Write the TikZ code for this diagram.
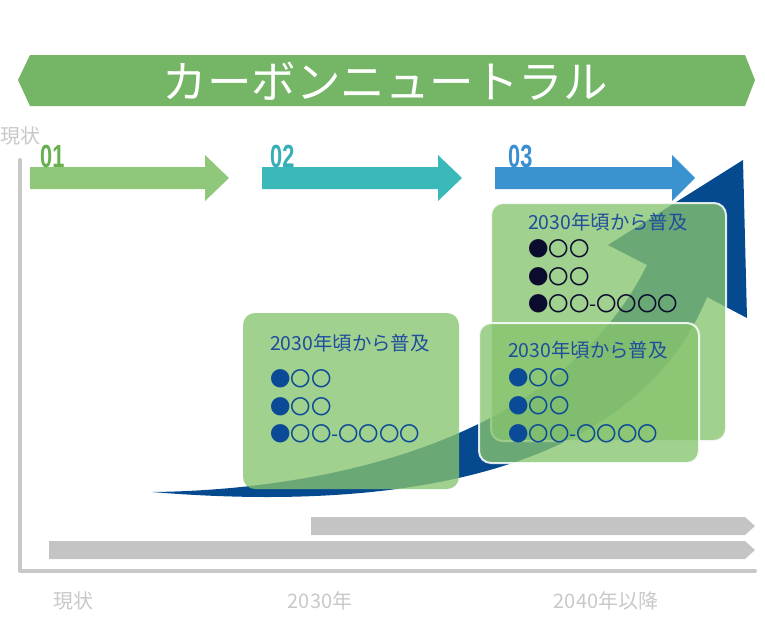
\documentclass[tikz,border=0pt]{standalone}
\usepackage{fontspec}
\setmainfont{Noto Sans CJK JP}
\newfontfamily\numfont{Liberation Sans}
\definecolor{bannerg}{HTML}{74B566}
\definecolor{arrowA}{HTML}{8FC87A}
\definecolor{numA}{HTML}{68B04F}
\definecolor{arrowB}{HTML}{3AB8BA}
\definecolor{numB}{HTML}{35AEB8}
\definecolor{arrowC}{HTML}{3A93D0}
\definecolor{numC}{HTML}{3A8FD0}
\definecolor{curveblue}{HTML}{05498F}
\definecolor{boxfill}{HTML}{87C46E}
\definecolor{txtblue}{HTML}{1E4E9C}
\definecolor{bulblue}{HTML}{0A4A96}
\definecolor{bulblack}{HTML}{0B0B2E}
\definecolor{axisgray}{HTML}{C8C8C8}
\definecolor{bargray}{HTML}{C4C4C4}
\tikzset{
  axisline/.style={draw=axisgray, line width=4pt, line cap=round, line join=round},
  graybar/.style={fill=bargray},
  numlabel/.style={anchor=base west, inner sep=0pt, font=\numfont\bfseries\fontsize{32}{32}\selectfont},
  infobox/.style={rectangle, rounded corners=12pt, anchor=north west, inner sep=0pt,
     fill=boxfill, fill opacity=0.78, draw=white, draw opacity=0.85, line width=2pt},
  boxtitle/.style={anchor=base west, inner sep=0pt, text=txtblue, font=\fontsize{19.4}{19.4}\selectfont},
  bulletline/.style={anchor=base west, inner sep=0pt, font=\fontsize{20.4}{20.4}\selectfont},
  axislabel/.style={anchor=base, inner sep=0pt, text=axisgray, font=\fontsize{20}{20}\selectfont}
}
\begin{document}
\begin{tikzpicture}[x=1pt,y=-1pt]
\useasboundingbox (0,0) rectangle (765,638);
% banner
\fill[bannerg] (18,80) -- (30,55) -- (745,55) -- (755,80) -- (745,106) -- (30,106) -- cycle;
\node[text=white, inner sep=0pt, font=\fontsize{44.5}{44.5}\selectfont] (title) at (385,81) {カーボンニュートラル};
% axes
\coordinate (axtop) at (20,160);
\coordinate (axorigin) at (20,571);
\coordinate (axright) at (755,571);
\draw[axisline] (axtop) -- (axorigin) -- (axright);
\node[axislabel] (lbltop) at (20,143) {現状};
\node[axislabel] (lblnow) at (73,608) {現状};
\node[axislabel] (lbl2030) at (320,608) {2030年};
\node[axislabel] (lbl2040) at (606,608) {2040年以降};
% gray bars
\fill[graybar] (311,517) -- (745,517) -- (755,526) -- (745,535) -- (311,535) -- cycle;
\fill[graybar] (49,541) -- (745,541) -- (755,550) -- (745,559) -- (49,559) -- cycle;
% phase arrows
\fill[arrowA] (30,167) -- (205,167) -- (205,155) -- (229,178) -- (205,201) -- (205,189) -- (30,189) -- cycle;
\fill[arrowB] (262,167) -- (438,167) -- (438,155) -- (462,178) -- (438,201) -- (438,189) -- (262,189) -- cycle;
\fill[arrowC] (495,167) -- (672,167) -- (672,155) -- (695,178) -- (672,201) -- (672,189) -- (495,189) -- cycle;
\node[numlabel, text=numA] (n1) at (40,167) {\scalebox{0.68}[1]{01}};
\node[numlabel, text=numB] (n2) at (270,167) {\scalebox{0.68}[1]{02}};
\node[numlabel, text=numC] (n3) at (508,167) {\scalebox{0.68}[1]{03}};
% big curved arrow
\fill[curveblue] (152,492) .. controls (330,490) and (560,440) .. (647,265)
  -- (608,245) -- (743,160) -- (747,318) -- (707,297)
  .. controls (640,460) and (430,515) .. (152,492) -- cycle;
% boxes
\node[infobox, draw=none, minimum width=216pt, minimum height=176pt] (box1) at (242,312) {};
\node[infobox, minimum width=235pt, minimum height=238pt] (box2) at (490,202) {};
\node[infobox, minimum width=220pt, minimum height=140pt] (box3) at (478,322) {};
% box 1 text
\node[boxtitle] (t1) at (270,350) {2030年頃から普及};
\node[bulletline, text=bulblue] (t1a) at (270,386) {●〇〇};
\node[bulletline, text=bulblue] (t1b) at (270,414) {●〇〇};
\node[bulletline, text=bulblue] (t1c) at (270,441) {●〇〇-〇〇〇〇};
% box 2 text
\node[boxtitle] (t2) at (528,229) {2030年頃から普及};
\node[bulletline, text=bulblack] (t2a) at (528,256) {●〇〇};
\node[bulletline, text=bulblack] (t2b) at (528,284) {●〇〇};
\node[bulletline, text=bulblack] (t2c) at (528,311) {●〇〇-〇〇〇〇};
% box 3 text
\node[boxtitle] (t3) at (508,357) {2030年頃から普及};
\node[bulletline, text=bulblue] (t3a) at (508,385) {●〇〇};
\node[bulletline, text=bulblue] (t3b) at (508,413) {●〇〇};
\node[bulletline, text=bulblue] (t3c) at (508,441) {●〇〇-〇〇〇〇};
\end{tikzpicture}
\end{document}
